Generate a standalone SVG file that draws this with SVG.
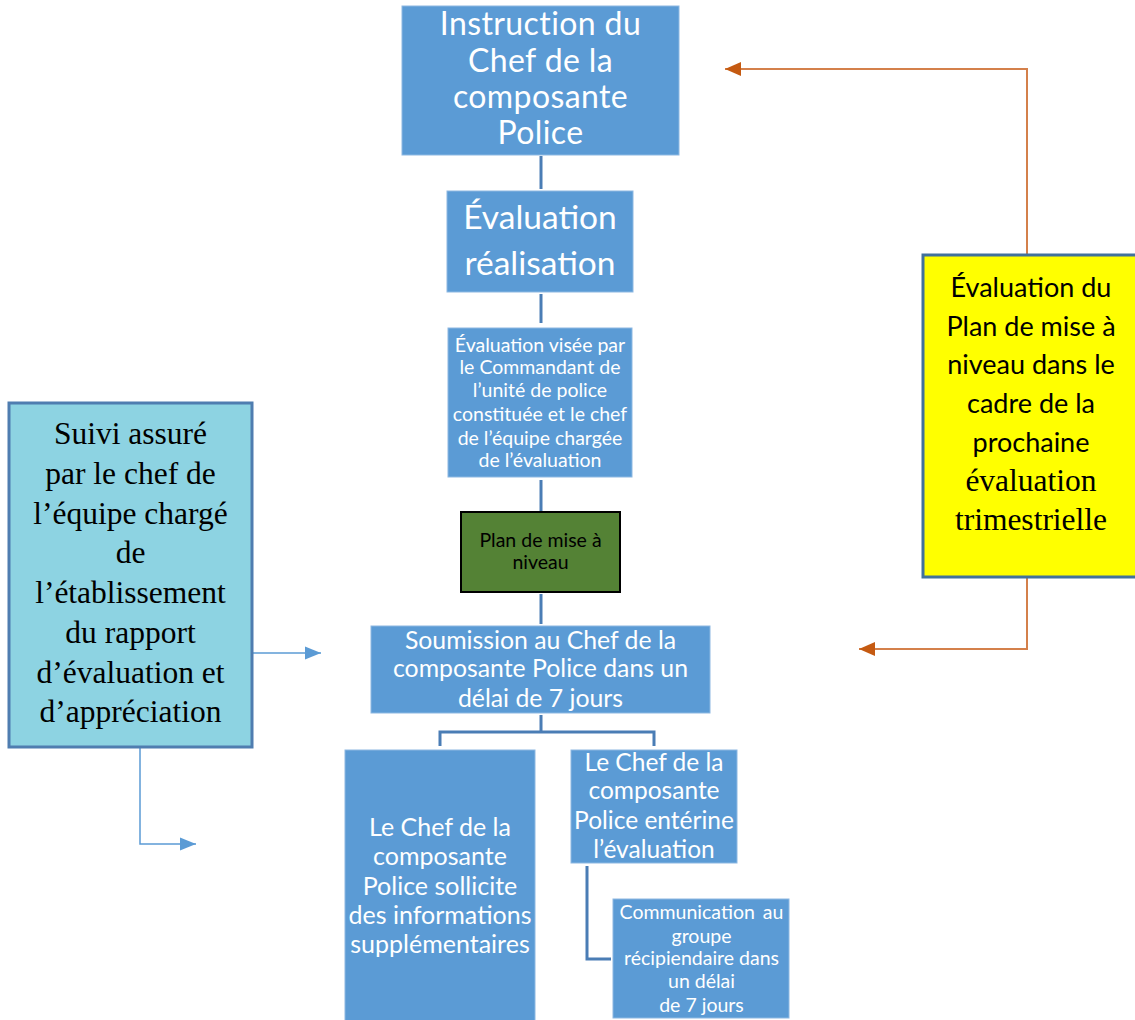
<svg xmlns="http://www.w3.org/2000/svg" width="1135" height="1020" viewBox="0 0 1135 1020">
<defs>
<style>
.bx{fill:#5B9BD5;stroke:#8DB8E2;stroke-width:1}
.t{font-family:Lato,"Liberation Sans",sans-serif;fill:#fff;text-anchor:middle}
.tb{font-family:Lato,"Liberation Sans",sans-serif;fill:#000;text-anchor:middle}
.ts{font-family:"Liberation Serif","Times New Roman",serif;fill:#000;text-anchor:middle}
.c{fill:none;stroke:#4A7DB5;stroke-width:3}
.cb{fill:none;stroke:#5B9BD5;stroke-width:1.5}
.co{fill:none;stroke:#D4804B;stroke-width:2}
</style>
<marker id="ab" markerUnits="userSpaceOnUse" markerWidth="16" markerHeight="14" refX="16" refY="7" orient="auto"><path d="M0,0.5 L16,7 L0,13.5 z" fill="#5B9BD5"/></marker>
<marker id="ao" markerUnits="userSpaceOnUse" markerWidth="16" markerHeight="15" refX="16" refY="7.5" orient="auto"><path d="M0,0.5 L16,7.5 L0,14.5 z" fill="#C55A11"/></marker>
</defs>
<rect width="1135" height="1020" fill="#fff"/>
<g id="connectors">
<path class="c" d="M541,156 V189"/>
<path class="c" d="M541,294 V323"/>
<path class="c" d="M541,480 V511"/>
<path class="c" d="M541,594 V624"/>
<path class="c" d="M541,715 V732 M440,746 V732 H654 V746"/>
<path class="c" d="M587,866 V959 H611"/>
<path class="cb" d="M252,653 H321" marker-end="url(#ab)"/>
<path class="cb" d="M140,748 V844 H196" marker-end="url(#ab)"/>
<path class="co" d="M1027,254 V69 H725" marker-end="url(#ao)"/>
<path class="co" d="M1027,578 V649 H859" marker-end="url(#ao)"/>
</g>
<g id="n1"><rect class="bx" x="402" y="6" width="277" height="149"/>
<text class="t" font-size="32" letter-spacing="0.4"><tspan x="540.5" y="35">Instruction du</tspan><tspan x="540.5" y="72">Chef de la</tspan><tspan x="540.5" y="108">composante</tspan><tspan x="540.5" y="144">Police</tspan></text></g>
<g id="n2"><rect class="bx" x="447" y="191" width="186" height="101"/>
<text class="t" font-size="33.5"><tspan x="540" y="229">Évaluation</tspan><tspan x="540" y="275">réalisation</tspan></text></g>
<g id="n3"><rect class="bx" x="448" y="328" width="184" height="149"/>
<text class="t" font-size="19.5"><tspan x="540" y="352">Évaluation visée par</tspan><tspan x="540" y="374">le Commandant de</tspan><tspan x="540" y="397">l’unité de police</tspan><tspan x="540" y="421">constituée et le chef</tspan><tspan x="540" y="445">de l’équipe chargée</tspan><tspan x="540" y="467">de l’évaluation</tspan></text></g>
<g id="n4"><rect x="461" y="512" width="159" height="80" fill="#548235" stroke="#000" stroke-width="2"/>
<text class="tb" font-size="19.5"><tspan x="540.5" y="547">Plan de mise à</tspan><tspan x="540.5" y="569">niveau</tspan></text></g>
<g id="n5"><rect class="bx" x="371" y="626" width="339" height="87"/>
<text class="t" font-size="24.8"><tspan x="540.5" y="649">Soumission au Chef de la</tspan><tspan x="540.5" y="677">composante Police dans un</tspan><tspan x="540.5" y="707">délai de 7 jours</tspan></text></g>
<g id="n6"><rect class="bx" x="345" y="750" width="190" height="275"/>
<text class="t" font-size="25"><tspan x="440" y="836">Le Chef de la</tspan><tspan x="440" y="865">composante</tspan><tspan x="440" y="895">Police sollicite</tspan><tspan x="440" y="924">des informations</tspan><tspan x="440" y="953">supplémentaires</tspan></text></g>
<g id="n7"><rect class="bx" x="571" y="750" width="166" height="113"/>
<text class="t" font-size="24.5"><tspan x="654" y="771">Le Chef de la</tspan><tspan x="654" y="799">composante</tspan><tspan x="654" y="829">Police entérine</tspan><tspan x="654" y="858">l’évaluation</tspan></text></g>
<g id="n8"><rect class="bx" x="613" y="899" width="176" height="119"/>
<text class="t" font-size="19.5"><tspan x="701.5" y="919" word-spacing="3">Communication au</tspan><tspan x="701.5" y="943">groupe</tspan><tspan x="701.5" y="965">récipiendaire dans</tspan><tspan x="701.5" y="988">un délai</tspan><tspan x="701.5" y="1012">de 7 jours</tspan></text></g>
<g id="n9"><rect x="9" y="403" width="243" height="344" fill="#8DD3E2" stroke="#4F7DB0" stroke-width="3"/>
<text class="ts" font-size="31.5"><tspan x="130.5" y="444">Suivi assuré</tspan><tspan x="130.5" y="484">par le chef de</tspan><tspan x="130.5" y="524">l’équipe chargé</tspan><tspan x="130.5" y="563">de</tspan><tspan x="130.5" y="603">l’établissement</tspan><tspan x="130.5" y="643">du rapport</tspan><tspan x="130.5" y="683">d’évaluation et</tspan><tspan x="130.5" y="722">d’appréciation</tspan></text></g>
<g id="n10"><rect x="923" y="255" width="217" height="322" fill="#FFFF00" stroke="#41719C" stroke-width="3"/>
<text class="tb" font-size="27"><tspan x="1031" y="297">Évaluation du</tspan><tspan x="1031" y="336">Plan de mise à</tspan><tspan x="1031" y="374">niveau dans le</tspan><tspan x="1031" y="413">cadre de la</tspan><tspan x="1031" y="452">prochaine</tspan></text>
<text class="ts" font-size="31.5"><tspan x="1031" y="491">évaluation</tspan><tspan x="1031" y="530">trimestrielle</tspan></text></g>
</svg>
